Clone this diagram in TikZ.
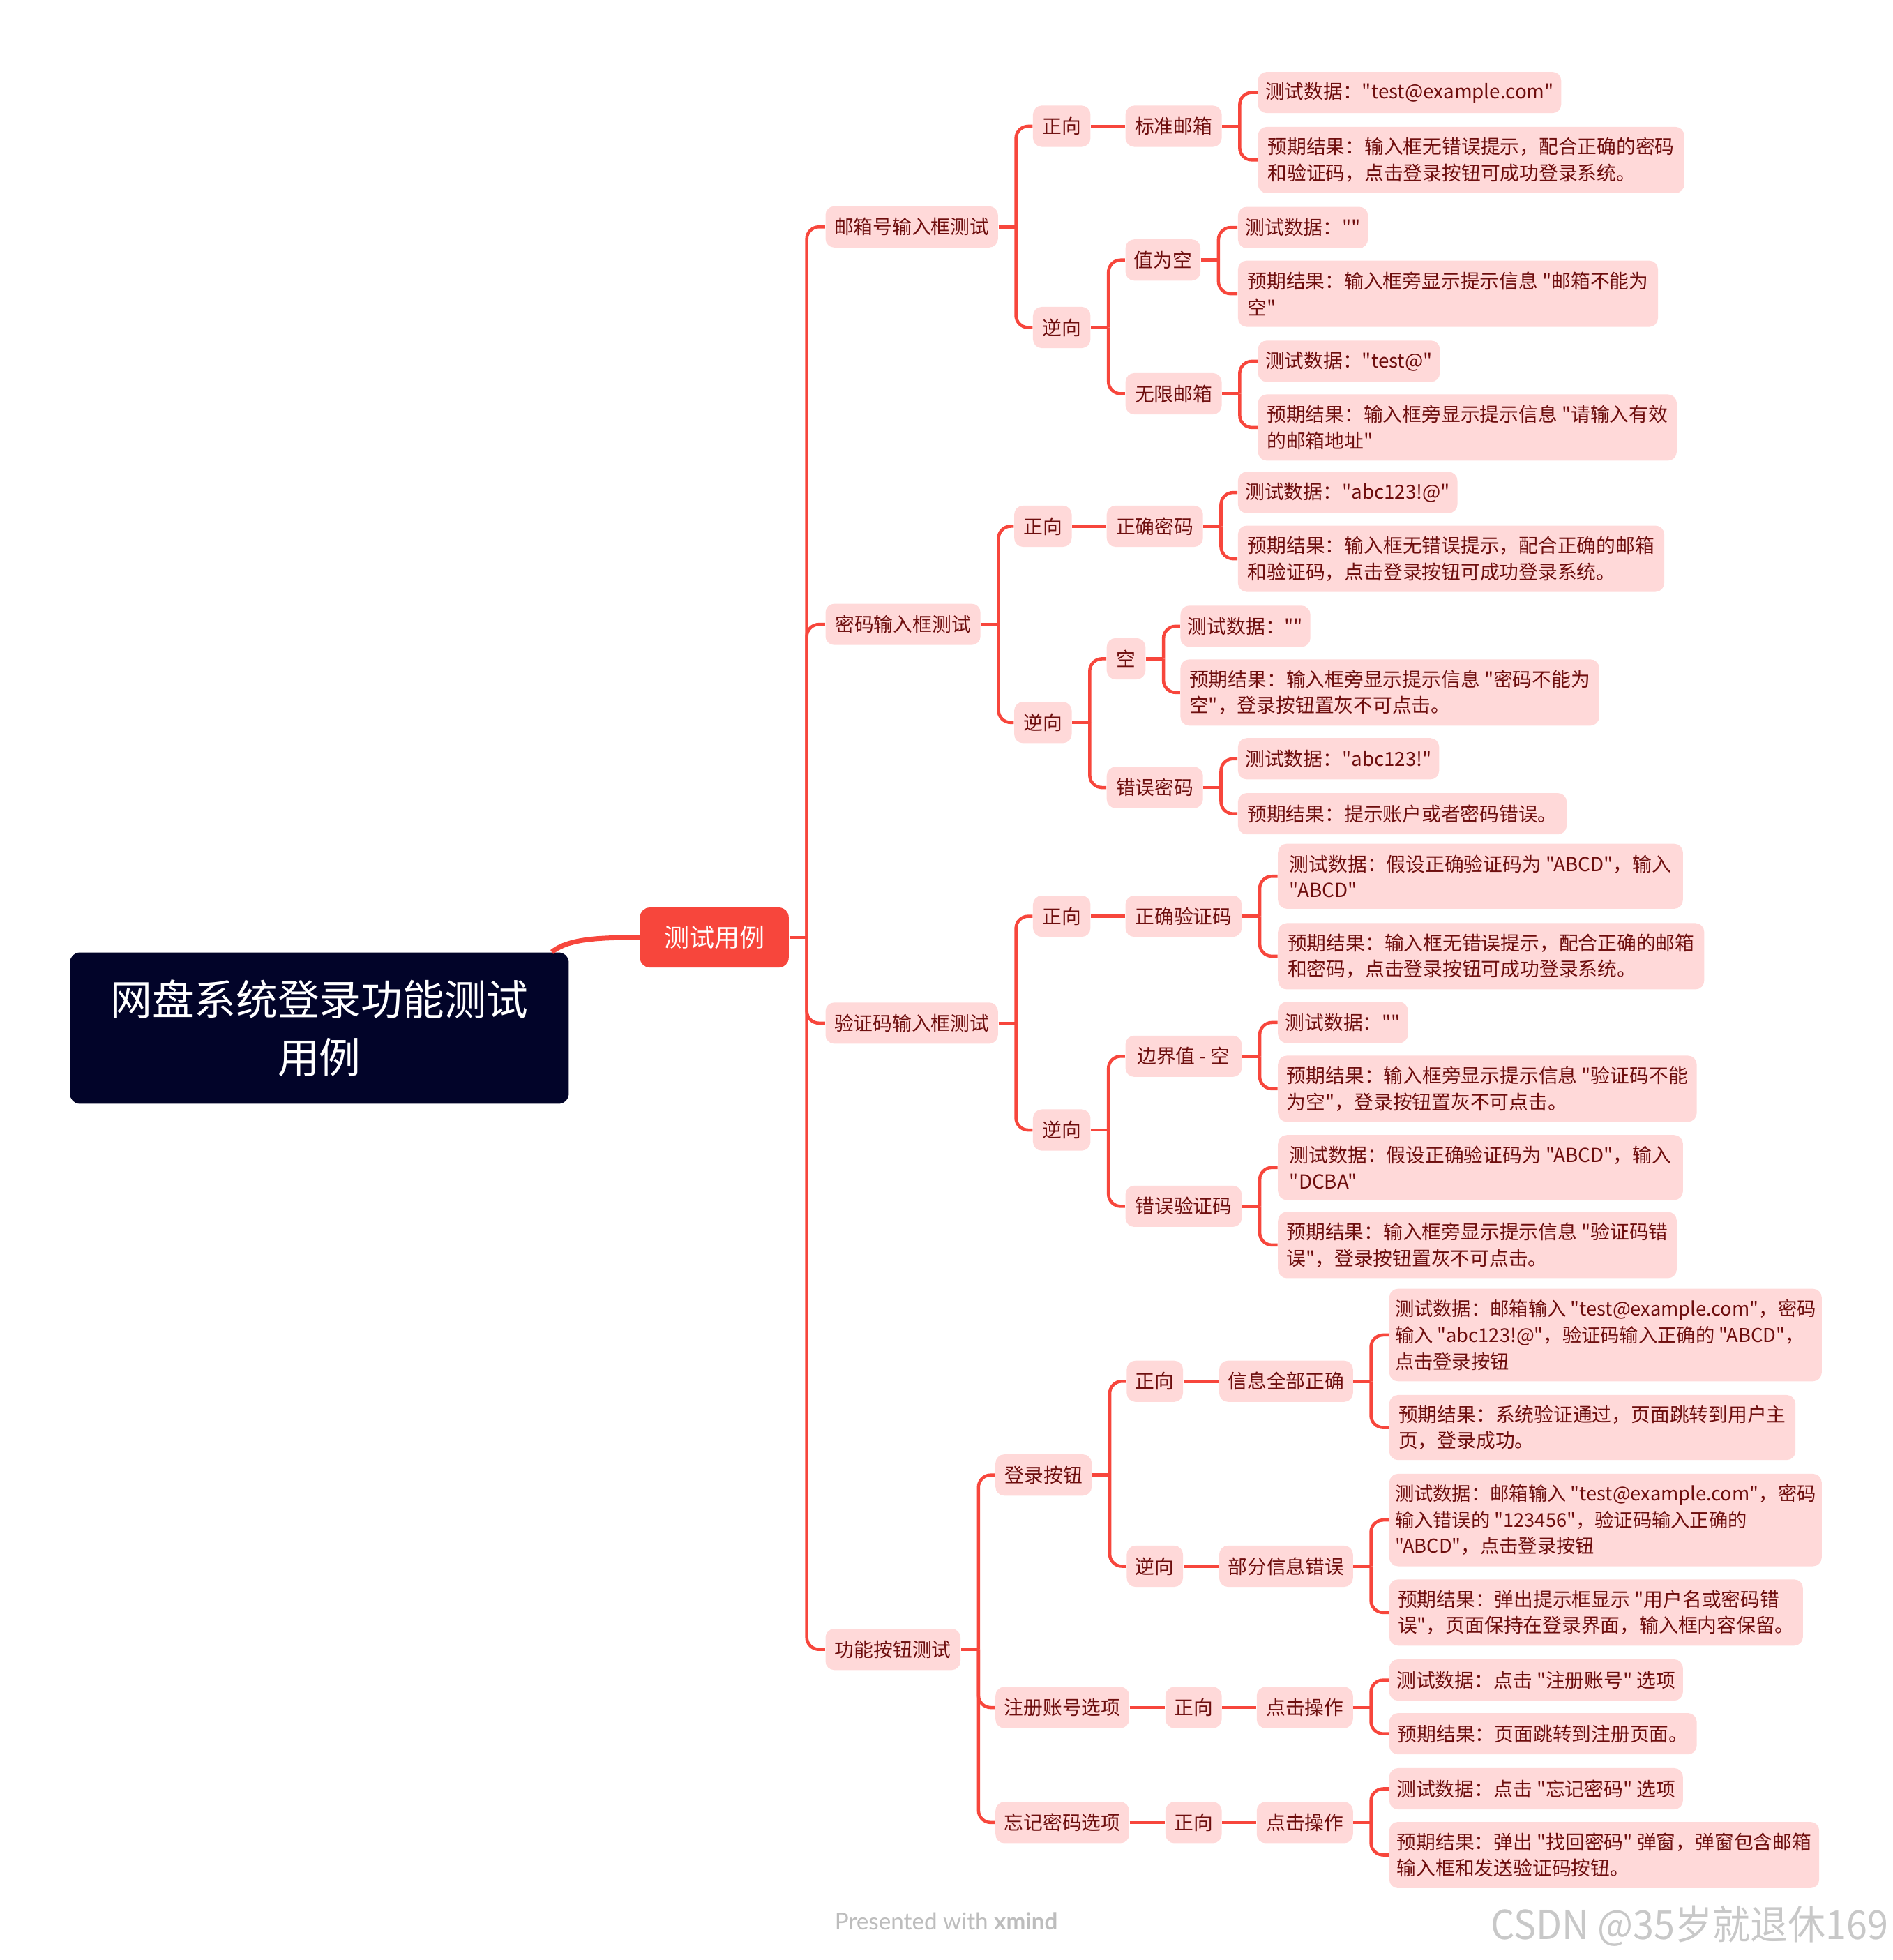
\documentclass[tikz,border=0pt]{standalone}
\usepackage{fontspec}
\usepackage{graphicx}
\setmainfont{Noto Sans CJK SC}[Ligatures=TeXOff]
\newfontfamily\latofont{Lato}
\usetikzlibrary{calc}
\definecolor{linkred}{HTML}{F7463C}
\definecolor{pinkfill}{HTML}{FFD9D9}
\definecolor{txtred}{HTML}{6E0E0E}
\definecolor{rootblue}{HTML}{020429}
\definecolor{wmgray}{HTML}{C8C8C8}
\definecolor{footgray}{HTML}{BDBDBD}
\newcommand\pxu{0.018cm}
\newcommand\branchto[2]{%
  \coordinate (#1-b) at ($(#1.east)+(14,0)$);
  \draw[conn] (#1.east) -- (#1-b);
  \foreach \cc in {#2} { \draw[conn] (#1-b) |- (\cc.west); }%
}
\begin{document}
\begin{tikzpicture}[x=0.018cm, y=-0.018cm,
  conn/.style={draw=linkred, line width=1.3pt, rounded corners=5pt},
  topic/.style={anchor=west, fill=pinkfill, text=txtred, rounded corners=3.6pt,
    font=\fontsize{7.94pt}{10.75pt}\selectfont, inner xsep=3pt, inner ysep=0pt,
    minimum height=33*\pxu, align=left},
  two/.style={minimum height=53*\pxu},
  three/.style={minimum height=74*\pxu},
  tight/.style={inner xsep=2pt, font=\fontsize{7.8pt}{10.75pt}\selectfont},
  rootbox/.style={fill=rootblue, text=white, rounded corners=4pt,
    font=\fontsize{17.1pt}{23.6pt}\selectfont, align=center,
    minimum width=399*\pxu, minimum height=121*\pxu},
  mainbox/.style={fill=linkred, text=white, rounded corners=4pt,
    font=\fontsize{10.3pt}{12pt}\selectfont,
    minimum width=119*\pxu, minimum height=48*\pxu}
]
\useasboundingbox (0,0) rectangle (1514,1568);

% root and main
\node[rootbox] (root) at (255.5,822.5) {网盘系统登录功能测试\\用例};
\node[mainbox] (tc) at (571.5,750) {测试用例};
\coordinate (rs) at ($(root.north east)+(-14,0)$);
\draw[draw=linkred, line width=2pt] (rs) .. controls (455,751) and (478,750) .. (tc.west);

% level 1
\node[topic, minimum width=138*\pxu] (a) at (660,181.5) {邮箱号输入框测试};
\node[topic, minimum width=124*\pxu] (b) at (660,499.5) {密码输入框测试};
\node[topic, minimum width=138*\pxu] (c) at (660,818.5) {验证码输入框测试};
\node[topic, minimum width=108*\pxu] (d) at (660,1319.5) {功能按钮测试};

% ---- A
\node[topic, minimum width=46*\pxu] (a1) at (826,101) {正向};
\node[topic, minimum width=46*\pxu] (a2) at (826,262) {逆向};
\node[topic, minimum width=77*\pxu] (a1x) at (900,101) {标准邮箱};
\node[topic, minimum width=233*\pxu] (a1x1) at (1006,74) {测试数据："test@example.com"};
\node[topic, two, minimum width=341*\pxu] (a1x2) at (1006,128) {预期结果：输入框无错误提示，配合正确的密码\\和验证码，点击登录按钮可成功登录系统。};
\node[topic, minimum width=60*\pxu] (a2x) at (900,208) {值为空};
\node[topic, minimum width=104*\pxu] (a2x1) at (990,182) {测试数据：""};
\node[topic, two, minimum width=336*\pxu] (a2x2) at (990,235) {预期结果：输入框旁显示提示信息 "邮箱不能为\\空"};
\node[topic, minimum width=77*\pxu] (a2y) at (900,315) {无限邮箱};
\node[topic, minimum width=142*\pxu] (a2y1) at (1006,289) {测试数据："test@"};
\node[topic, two, minimum width=335*\pxu] (a2y2) at (1006,342) {预期结果：输入框旁显示提示信息 "请输入有效\\的邮箱地址"};

% ---- B
\node[topic, minimum width=46*\pxu] (b1) at (811,421) {正向};
\node[topic, minimum width=46*\pxu] (b2) at (811,578) {逆向};
\node[topic, minimum width=77*\pxu] (b1x) at (885,421) {正确密码};
\node[topic, minimum width=168*\pxu] (b1x1) at (990,394) {测试数据："abc123!@"};
\node[topic, two, minimum width=341*\pxu] (b1x2) at (990,447) {预期结果：输入框无错误提示，配合正确的邮箱\\和验证码，点击登录按钮可成功登录系统。};
\node[topic, minimum width=31*\pxu] (b2x) at (885,527) {空};
\node[topic, minimum width=103*\pxu] (b2x1) at (944,501) {测试数据：""};
\node[topic, two, minimum width=335*\pxu] (b2x2) at (944,554) {预期结果：输入框旁显示提示信息 "密码不能为\\空"，登录按钮置灰不可点击。};
\node[topic, minimum width=77*\pxu] (b2y) at (885,630) {错误密码};
\node[topic, minimum width=156*\pxu] (b2y1) at (990,607) {测试数据："abc123!"};
\node[topic, minimum width=263*\pxu] (b2y2) at (990,651) {预期结果：提示账户或者密码错误。};

% ---- C
\node[topic, minimum width=46*\pxu] (c1) at (826,733) {正向};
\node[topic, minimum width=46*\pxu] (c2) at (826,904) {逆向};
\node[topic, minimum width=93*\pxu] (c1x) at (900,733) {正确验证码};
\node[topic, two, minimum width=324*\pxu, minimum height=52*\pxu] (c1x1) at (1022,701) {测试数据：假设正确验证码为 "ABCD"，输入\\"ABCD"};
\node[topic, two, minimum width=341*\pxu] (c1x2) at (1022,765) {预期结果：输入框无错误提示，配合正确的邮箱\\和密码，点击登录按钮可成功登录系统。};
\node[topic, minimum width=93*\pxu] (c2x) at (900,845) {边界值 - 空};
\node[topic, minimum width=104*\pxu] (c2x1) at (1022,818) {测试数据：""};
\node[topic, two, minimum width=335*\pxu] (c2x2) at (1022,871) {预期结果：输入框旁显示提示信息 "验证码不能\\为空"，登录按钮置灰不可点击。};
\node[topic, minimum width=93*\pxu] (c2y) at (900,965) {错误验证码};
\node[topic, two, minimum width=324*\pxu, minimum height=52*\pxu] (c2y1) at (1022,934) {测试数据：假设正确验证码为 "ABCD"，输入\\"DCBA"};
\node[topic, two, minimum width=319*\pxu] (c2y2) at (1022,996) {预期结果：输入框旁显示提示信息 "验证码错\\误"，登录按钮置灰不可点击。};

% ---- D
\node[topic, minimum width=77*\pxu] (d1) at (796,1180) {登录按钮};
\node[topic, minimum width=107*\pxu] (d2) at (796,1366) {注册账号选项};
\node[topic, minimum width=107*\pxu] (d3) at (796,1458) {忘记密码选项};
\node[topic, minimum width=45*\pxu] (d1a) at (901,1105) {正向};
\node[topic, minimum width=45*\pxu] (d1b) at (901,1253) {逆向};
\node[topic, minimum width=107*\pxu] (d1ax) at (975,1105) {信息全部正确};
\node[topic, three, tight, minimum width=346*\pxu] (d1ax1) at (1111,1068) {测试数据：邮箱输入 "test@example.com"，密码\\输入 "abc123!@"，验证码输入正确的 "ABCD"，\\点击登录按钮};
\node[topic, two, minimum width=325*\pxu, minimum height=52*\pxu] (d1ax2) at (1111,1142) {预期结果：系统验证通过，页面跳转到用户主\\页，登录成功。};
\node[topic, minimum width=107*\pxu] (d1bx) at (975,1253) {部分信息错误};
\node[topic, three, tight, minimum width=346*\pxu] (d1bx1) at (1111,1216) {测试数据：邮箱输入 "test@example.com"，密码\\输入错误的 "123456"，验证码输入正确的\\"ABCD"，点击登录按钮};
\node[topic, two, minimum width=331*\pxu] (d1bx2) at (1111,1290) {预期结果：弹出提示框显示 "用户名或密码错\\误"，页面保持在登录界面，输入框内容保留。};
\node[topic, minimum width=45*\pxu] (d2a) at (932,1366) {正向};
\node[topic, minimum width=77*\pxu] (d2ax) at (1005,1366) {点击操作};
\node[topic, minimum width=235*\pxu] (d2ax1) at (1111,1344) {测试数据：点击 "注册账号" 选项};
\node[topic, minimum width=246*\pxu] (d2ax2) at (1111,1387) {预期结果：页面跳转到注册页面。};
\node[topic, minimum width=45*\pxu] (d3a) at (932,1458) {正向};
\node[topic, minimum width=77*\pxu] (d3ax) at (1005,1458) {点击操作};
\node[topic, minimum width=235*\pxu] (d3ax1) at (1111,1431) {测试数据：点击 "忘记密码" 选项};
\node[topic, two, minimum width=344*\pxu] (d3ax2) at (1111,1484) {预期结果：弹出 "找回密码" 弹窗，弹窗包含邮箱\\输入框和发送验证码按钮。};

% ---- connectors
\branchto{tc}{a,b,c,d}
\branchto{a}{a1,a2}
\draw[conn] (a1.east) -- (a1x.west);
\branchto{a1x}{a1x1,a1x2}
\branchto{a2}{a2x,a2y}
\branchto{a2x}{a2x1,a2x2}
\branchto{a2y}{a2y1,a2y2}
\branchto{b}{b1,b2}
\draw[conn] (b1.east) -- (b1x.west);
\branchto{b1x}{b1x1,b1x2}
\branchto{b2}{b2x,b2y}
\branchto{b2x}{b2x1,b2x2}
\branchto{b2y}{b2y1,b2y2}
\branchto{c}{c1,c2}
\draw[conn] (c1.east) -- (c1x.west);
\branchto{c1x}{c1x1,c1x2}
\branchto{c2}{c2x,c2y}
\branchto{c2x}{c2x1,c2x2}
\branchto{c2y}{c2y1,c2y2}
\branchto{d}{d1,d2,d3}
\branchto{d1}{d1a,d1b}
\draw[conn] (d1a.east) -- (d1ax.west);
\draw[conn] (d1b.east) -- (d1bx.west);
\branchto{d1ax}{d1ax1,d1ax2}
\branchto{d1bx}{d1bx1,d1bx2}
\draw[conn] (d2.east) -- (d2a.west);
\draw[conn] (d2a.east) -- (d2ax.west);
\branchto{d2ax}{d2ax1,d2ax2}
\draw[conn] (d3.east) -- (d3a.west);
\draw[conn] (d3a.east) -- (d3ax.west);
\branchto{d3ax}{d3ax1,d3ax2}

% footer
\node[text=footgray, font=\latofont\fontsize{9.5pt}{11pt}\selectfont] (foot) at (757,1537) {Presented with \textbf{xmind}};
\node[anchor=east, inner sep=0pt, text=wmgray, font=\fontsize{16.4pt}{18pt}\selectfont] (wm) at (1511,1541) {\scalebox{0.94}[1]{CSDN @35岁就退休169}};
\end{tikzpicture}
\end{document}
